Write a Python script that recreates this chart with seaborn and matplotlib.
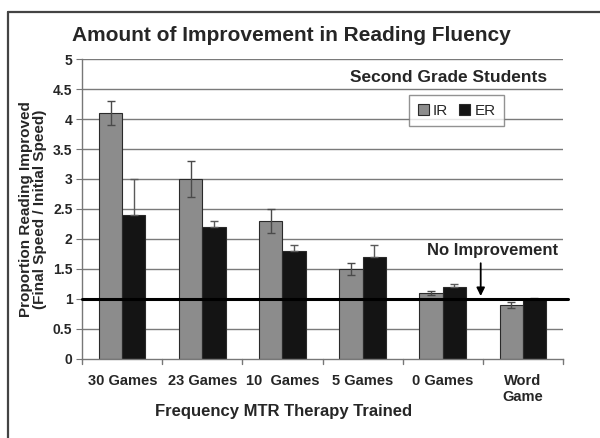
import numpy as np
import pandas as pd
import matplotlib
matplotlib.use("Agg")
import matplotlib.pyplot as plt
from matplotlib.lines import Line2D
import seaborn as sns

# data
categories = ["30 Games", "23 Games", "10  Games", "5 Games", "0 Games", "Word\nGame"]
ir_values = [4.1, 3.0, 2.3, 1.5, 1.1, 0.9]
er_values = [2.4, 2.2, 1.8, 1.7, 1.2, 1.0]
ir_err = [0.2, 0.3, 0.2, 0.1, 0.03, 0.05]
er_err = [0.6, 0.1, 0.1, 0.2, 0.05, 0.02]
groups = ["IR", "ER"]
yticks = [0, 0.5, 1, 1.5, 2, 2.5, 3, 3.5, 4, 4.5, 5]
ytick_labels = ["0", "0.5", "1", "1.5", "2", "2.5", "3", "3.5", "4", "4.5", "5"]

df = pd.DataFrame({
    "cat": categories * 2,
    "group": ["IR"] * len(categories) + ["ER"] * len(categories),
    "val": ir_values + er_values,
    "err": ir_err + er_err,
})

sns.set_style("white")
plt.rcParams["font.family"] = ["Liberation Sans", "DejaVu Sans"]

fig = plt.figure(figsize=(6, 4.38), dpi=100)
ax = fig.add_axes([0.137, 0.181, 0.801, 0.684])

ax.set_axisbelow(True)
for y in yticks[1:]:
    ax.axhline(y, color="#7a7a7a", lw=1.0, zorder=0)

sns.barplot(data=df, x="cat", y="val", hue="group", order=categories, hue_order=groups,
            palette={"IR": "#8c8c8c", "ER": "#141414"}, width=0.58, errorbar=None,
            edgecolor="#2a2a2a", linewidth=0.8, ax=ax, saturation=1, zorder=2)

# error bars placed on the bars seaborn drew
err_colors = {"IR": "#4a4a4a", "ER": "#5a5a5a"}
for cont, g in zip(ax.containers, groups):
    sub = df[df["group"] == g].set_index("cat").loc[categories]
    xs = [p.get_x() + p.get_width() / 2 for p in cont.patches]
    vals = sub["val"].values
    errs = sub["err"].values
    if g == "ER":
        # lower half vanishes into the black bar
        yerr = [np.zeros_like(errs), errs]
    else:
        yerr = errs
    ax.errorbar(xs, vals, yerr=yerr, fmt="none",
                ecolor=err_colors[g], elinewidth=1.0, capsize=3, capthick=1.0, zorder=3)

ax.axhline(1, color="black", lw=2.2, xmin=0, xmax=1.01, clip_on=False, zorder=4)

ax.set_ylim(0, 5)
ax.set_xlim(-0.5, len(categories) - 0.5)
ax.set_yticks(yticks)
ax.set_yticklabels(ytick_labels, fontweight="bold", fontsize=10)
ax.set_xticks(range(len(categories)))
ax.set_xticklabels(categories, fontweight="bold", fontsize=10.5, linespacing=1.15)
ax.tick_params(axis="x", length=0, pad=11)
ax.tick_params(axis="y", length=4, color="#777777", left=True, pad=3)
# boundary ticks on the category axis
for b in np.arange(-0.5, len(categories) + 0.5, 1):
    ax.plot([b, b], [0, -0.08], color="#777777", lw=1, clip_on=False)

for side in ["top", "right"]:
    ax.spines[side].set_visible(False)
for side in ["left", "bottom"]:
    ax.spines[side].set_color("#777777")
    ax.spines[side].set_linewidth(1.0)

ax.set_xlabel("")
ax.set_ylabel("Proportion Reading Improved\n(Final Speed / Initial Speed)",
              fontweight="bold", fontsize=11, linespacing=1.0, labelpad=4)

leg = ax.legend(loc="upper left", bbox_to_anchor=(0.665, 0.905), ncol=2, fontsize=11,
                frameon=True, fancybox=False, handlelength=0.7, handleheight=0.7,
                handletextpad=0.3, columnspacing=0.7, borderpad=0.55)
leg.get_frame().set_edgecolor("#777777")
leg.get_frame().set_linewidth(1.0)

ax.text(5.31, 4.7, "Second Grade Students", ha="right", va="center",
        fontweight="bold", fontsize=12.5)
ax.text(4.62, 1.8, "No Improvement", ha="center", va="center",
        fontweight="bold", fontsize=12)
ax.annotate("", xy=(4.475, 1.0), xytext=(4.475, 1.64),
            arrowprops=dict(arrowstyle="-|>", color="black", lw=1.3, mutation_scale=12))

fig.text(0.485, 0.918, "Amount of Improvement in Reading Fluency",
         ha="center", va="center", fontweight="bold", fontsize=15)
fig.text(0.472, 0.06, "Frequency MTR Therapy Trained",
         ha="center", va="center", fontweight="bold", fontsize=12)

# outer frame (left and top edges visible)
fig.add_artist(Line2D([8 / 600, 8 / 600], [0, 1 - 12 / 438], color="#444444", lw=1.6))
fig.add_artist(Line2D([8 / 600, 1], [1 - 12 / 438, 1 - 12 / 438], color="#444444", lw=1.6))

fig.savefig("out.png", dpi=100)
